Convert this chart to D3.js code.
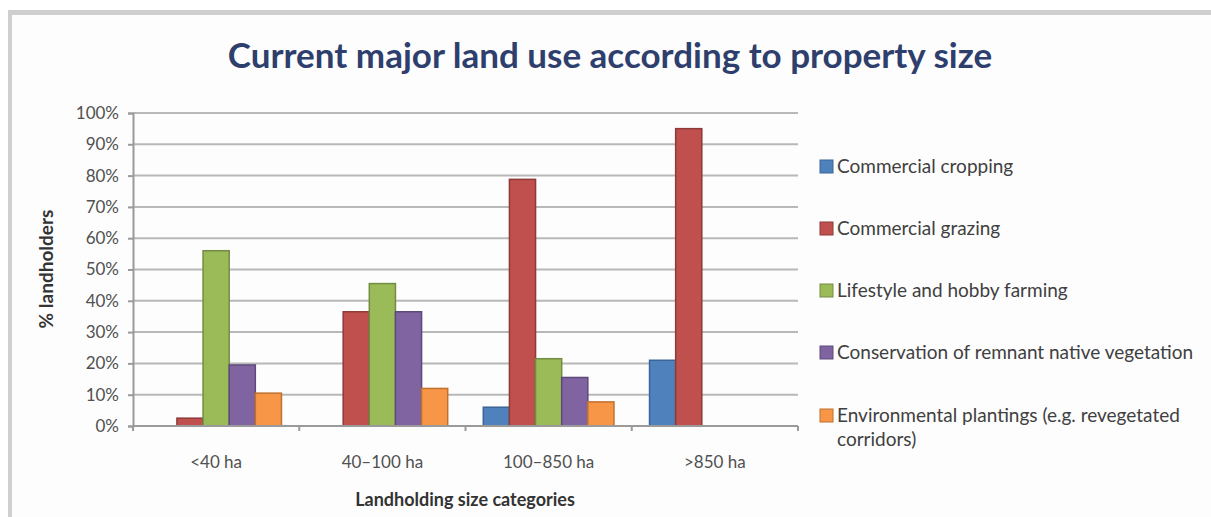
<!DOCTYPE html>
<html>
<head>
<meta charset="utf-8">
<script src="https://cdn.jsdelivr.net/npm/d3@7"></script>
<style>
  html, body { margin: 0; padding: 0; background: #ffffff; }
  svg { display: block; }
  text { font-family: Lato, "Open Sans", sans-serif; }
</style>
</head>
<body>
<svg id="chart" width="1211" height="517"></svg>
<script>
// ---- data ----
const categories = ["<40 ha", "40–100 ha", "100–850 ha", ">850 ha"];
const seriesNames = [
  "Commercial cropping",
  "Commercial grazing",
  "Lifestyle and hobby farming",
  "Conservation of remnant native vegetation",
  "Environmental plantings (e.g. revegetated corridors)"
];
const commercialCropping = [0, 0, 6, 21];
const commercialGrazing = [2.5, 36.5, 78.8, 95];
const lifestyleHobby = [56, 45.5, 21.5, 0];
const conservationNative = [19.5, 36.5, 15.5, 0];
const environmentalPlantings = [10.5, 12, 7.7, 0];
const yTickValues = [0, 10, 20, 30, 40, 50, 60, 70, 80, 90, 100];
const legendLines = [
  ["Commercial cropping"],
  ["Commercial grazing"],
  ["Lifestyle and hobby farming"],
  ["Conservation of remnant native vegetation"],
  ["Environmental plantings (e.g. revegetated", "corridors)"]
];

const seriesValues = [commercialCropping, commercialGrazing, lifestyleHobby, conservationNative, environmentalPlantings];
const fills = ["#4F81BD", "#C0504D", "#9BBB59", "#8064A2", "#F79646"];
const strokes = ["#3A6596", "#8E3A38", "#728C42", "#5E4A7A", "#C0712F"];

const svg = d3.select("#chart");

// frame
svg.append("rect").attr("x", 0).attr("y", 0).attr("width", 1211).attr("height", 517).attr("fill", "#ffffff");
svg.append("rect").attr("x", 8).attr("y", 10).attr("width", 1203).attr("height", 5).attr("fill", "#cfcfcf");
svg.append("rect").attr("x", 8).attr("y", 10).attr("width", 4).attr("height", 507).attr("fill", "#cfcfcf");
svg.append("rect").attr("x", 12).attr("y", 15).attr("width", 1199).attr("height", 502).attr("fill", "#fdfdfd");

// title
svg.append("text")
  .attr("x", 610).attr("y", 68)
  .attr("text-anchor", "middle")
  .attr("font-size", 35).attr("font-weight", "bold")
  .attr("fill", "#2E3F6E")
  .text("Current major land use according to property size");

const plotLeft = 133, plotRight = 798, plotTop = 113, plotBottom = 426;

const x0 = d3.scaleBand().domain(categories).range([plotLeft, plotRight]).paddingInner(0.214).paddingOuter(0.107);
const x1 = d3.scaleBand().domain(d3.range(seriesNames.length)).range([0, x0.bandwidth()]);
const y = d3.scaleLinear().domain([0, 100]).range([plotBottom, plotTop]);

// gridlines
svg.append("g").selectAll("line").data(yTickValues.filter(d => d > 0)).join("line")
  .attr("x1", plotLeft).attr("x2", plotRight)
  .attr("y1", d => y(d)).attr("y2", d => y(d))
  .attr("stroke", "#b8b8b8").attr("stroke-width", 2);

// y axis
const yAxis = d3.axisLeft(y).tickValues(yTickValues).tickFormat(d => d + "%").tickSize(5).tickPadding(9);
const gy = svg.append("g").attr("transform", `translate(${plotLeft},0)`).call(yAxis);
gy.select(".domain").attr("stroke", "#9a9a9a").attr("stroke-width", 2);
gy.selectAll(".tick line").attr("stroke", "#9a9a9a").attr("stroke-width", 2);
gy.selectAll(".tick text").attr("font-size", 17).attr("fill", "#505050").attr("font-family", "Lato, 'Open Sans', sans-serif");

// bars
const groups = svg.append("g").selectAll("g").data(categories).join("g")
  .attr("transform", d => `translate(${x0(d)},0)`);
groups.selectAll("rect")
  .data((c, ci) => seriesValues.map((vals, si) => ({ si, v: vals[ci] })).filter(d => d.v > 0))
  .join("rect")
  .attr("x", d => x1(d.si))
  .attr("width", x1.bandwidth())
  .attr("y", d => y(d.v))
  .attr("height", d => y(0) - y(d.v))
  .attr("fill", d => fills[d.si])
  .attr("stroke", d => strokes[d.si])
  .attr("stroke-width", 1.5);

// x axis
const xBase = d3.scaleLinear().domain([0, categories.length]).range([plotLeft, plotRight]);
svg.append("line").attr("x1", plotLeft).attr("x2", plotRight).attr("y1", plotBottom).attr("y2", plotBottom)
  .attr("stroke", "#9a9a9a").attr("stroke-width", 2);
svg.append("g").selectAll("line").data(d3.range(categories.length + 1)).join("line")
  .attr("x1", d => xBase(d)).attr("x2", d => xBase(d))
  .attr("y1", plotBottom).attr("y2", plotBottom + 5)
  .attr("stroke", "#9a9a9a").attr("stroke-width", 2);
svg.append("g").selectAll("text").data(categories).join("text")
  .attr("x", d => x0(d) + x0.bandwidth() / 2)
  .attr("y", 468)
  .attr("text-anchor", "middle")
  .attr("font-size", 17)
  .attr("fill", "#505050")
  .text(d => d);

// axis titles
svg.append("text")
  .attr("x", 465).attr("y", 506)
  .attr("text-anchor", "middle")
  .attr("font-size", 18).attr("font-weight", "bold")
  .attr("fill", "#333333")
  .text("Landholding size categories");
svg.append("text")
  .attr("transform", "translate(53,269) rotate(-90)")
  .attr("text-anchor", "middle")
  .attr("font-size", 19).attr("font-weight", "bold")
  .attr("fill", "#333333")
  .text("% landholders");

// legend
const legendY = [167, 229, 291, 353, 416];
const lg = svg.append("g").selectAll("g").data(seriesNames).join("g")
  .attr("transform", (d, i) => `translate(820,${legendY[i]})`);
lg.append("rect").attr("x", 0).attr("y", -7).attr("width", 13).attr("height", 13)
  .attr("fill", (d, i) => fills[i]).attr("stroke", (d, i) => strokes[i]).attr("stroke-width", 1);
lg.each(function(d, i) {
  const t = d3.select(this).append("text").attr("x", 17).attr("y", 6)
    .attr("font-size", 19).attr("fill", "#404040");
  legendLines[i].forEach((line, li) => {
    t.append("tspan").attr("x", 17).attr("dy", li === 0 ? 0 : 24).text(line);
  });
});
</script>
</body>
</html>
